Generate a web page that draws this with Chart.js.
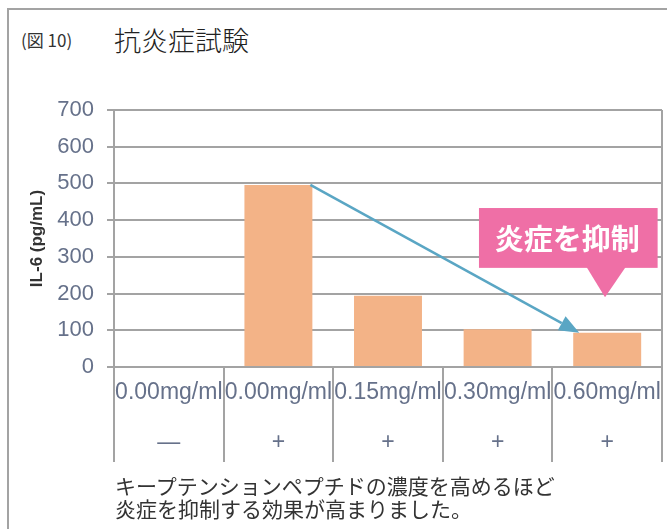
<!DOCTYPE html>
<html lang="ja">
<head>
    <meta charset="UTF-8">
    <title>抗炎症試験</title>
    <style>
        body {
            margin: 0;
            background: #fff;
            font-family: "Noto Sans CJK JP", sans-serif;
            color: #333;
        }
        .wrap {
            position: relative;
            width: 667px;
            height: 529px;
            overflow: hidden;
        }
        .frame {
            position: absolute;
            left: 7px;
            top: 8px;
            width: 680px;
            height: 540px;
            border-left: 2px solid #a3a3a3;
            border-top: 2px solid #a3a3a3;
        }
        #chart {
            position: absolute;
            left: 0;
            top: 0;
        }
        .fig-no {
            position: absolute;
            left: 21px;
            top: 28px;
            font-size: 17px;
            line-height: 24px;
        }
        .title {
            position: absolute;
            left: 114px;
            top: 22px;
            font-size: 27px;
            line-height: 36px;
            font-weight: 300;
            color: #222;
        }
        .caption {
            position: absolute;
            left: 115px;
            top: 474px;
            font-size: 21px;
            line-height: 23px;
            color: #333;
        }
    </style>
</head>
<body>
<div class="wrap">
    <div class="frame"></div>
    <div class="fig-no">(図 10)</div>
    <div class="title">抗炎症試験</div>
    <canvas id="chart" width="667" height="529"></canvas>
    <div class="caption">キープテンションペプチドの濃度を高めるほど<br>炎症を抑制する効果が高まりました。</div>
</div>

<script src="https://cdn.jsdelivr.net/npm/chart.js"></script>
<script>
    // data
    const concentrations = ['0.00mg/ml', '0.00mg/ml', '0.15mg/ml', '0.30mg/ml', '0.60mg/ml'];
    const stimulus = ['—', '+', '+', '+', '+'];
    const il6Values = [0, 496, 194, 103, 93];
    const yTicks = [0, 100, 200, 300, 400, 500, 600, 700];
    const calloutText = '炎症を抑制';

    const gridGray = '#a3a3a3';
    const labelGray = '#66718a';

    // arrow + pink callout drawn on top of the bars
    const annotations = {
        id: 'annotations',
        afterDatasetsDraw(chart) {
            const ctx = chart.ctx;
            const x = chart.scales.x;
            const y = chart.scales.y;
            const area = chart.chartArea;

            // right border of plot
            ctx.save();
            ctx.strokeStyle = gridGray;
            ctx.lineWidth = 2;
            ctx.beginPath();
            ctx.moveTo(area.right, area.top);
            ctx.lineTo(area.right, area.bottom);
            ctx.stroke();

            // arrow from top-right of bar 1 to top-left of bar 4
            const bars = chart.getDatasetMeta(0).data;
            const b1 = bars[1], b4 = bars[4];
            const x1 = b1.x + b1.width / 2 - 2, y1 = b1.y;
            const x2 = b4.x - b4.width / 2 + 6, y2 = b4.y;
            const ang = Math.atan2(y2 - y1, x2 - x1);
            const headLen = 20, headW = 8;
            const bx = x2 - headLen * Math.cos(ang), by = y2 - headLen * Math.sin(ang);
            ctx.strokeStyle = '#5aa6c4';
            ctx.fillStyle = '#5aa6c4';
            ctx.lineWidth = 2.5;
            ctx.beginPath();
            ctx.moveTo(x1, y1);
            ctx.lineTo(bx, by);
            ctx.stroke();
            ctx.beginPath();
            ctx.moveTo(x2, y2);
            ctx.lineTo(bx + headW * Math.sin(ang), by - headW * Math.cos(ang));
            ctx.lineTo(bx - headW * Math.sin(ang), by + headW * Math.cos(ang));
            ctx.closePath();
            ctx.fill();

            // pink callout box
            const step = x.getPixelForValue(1) - x.getPixelForValue(0);
            const cx = x.getPixelForValue(4);
            const left = cx - 1.17 * step, right = cx + 0.46 * step;
            const top = y.getPixelForValue(433), bottom = y.getPixelForValue(270);
            ctx.fillStyle = '#ef6fa6';
            ctx.fillRect(left, top, right - left, bottom - top);
            ctx.beginPath();
            ctx.moveTo(cx - 0.19 * step, bottom - 1);
            ctx.lineTo(cx + 0.17 * step, bottom - 1);
            ctx.lineTo(cx - 0.02 * step, y.getPixelForValue(190));
            ctx.closePath();
            ctx.fill();
            ctx.fillStyle = '#fff';
            ctx.font = 'bold 29px "Noto Sans CJK JP"';
            ctx.textAlign = 'center';
            ctx.textBaseline = 'middle';
            ctx.fillText(calloutText, (left + right) / 2 - 1, (top + bottom) / 2 + 1);
            ctx.restore();
        }
    };

    new Chart(document.getElementById('chart'), {
        type: 'bar',
        data: {
            labels: concentrations.map((c, i) => [c, stimulus[i]]),
            datasets: [{
                data: il6Values,
                backgroundColor: '#f3b387',
                borderWidth: 0,
                barPercentage: 0.62,
                categoryPercentage: 1
            }]
        },
        options: {
            responsive: false,
            animation: false,
            layout: { padding: { left: 0, top: 110, right: 5, bottom: 67 } },
            plugins: {
                legend: { display: false },
                tooltip: { enabled: false }
            },
            scales: {
                x: {
                    afterFit: s => { s.height = 95; },
                    grid: {
                        offset: true,
                        drawOnChartArea: false,
                        tickLength: 95,
                        color: gridGray,
                        lineWidth: 2
                    },
                    border: { display: true, color: gridGray, width: 2 },
                    ticks: {
                        padding: -94,
                        color: labelGray,
                        maxRotation: 0,
                        autoSkip: false,
                        font: { family: 'Liberation Sans', size: 23, lineHeight: 2.15 }
                    }
                },
                y: {
                    min: 0,
                    max: 700,
                    afterFit: s => { s.width = 114; },
                    afterBuildTicks: s => {
                        // major ticks plus minor marks at every 50
                        const t = [];
                        for (let i = 0; i < yTicks.length; i++) {
                            t.push({ value: yTicks[i] });
                            if (i < yTicks.length - 1) t.push({ value: (yTicks[i] + yTicks[i + 1]) / 2 });
                        }
                        s.ticks = t;
                    },
                    grid: {
                        color: c => yTicks.includes(c.tick.value) ? gridGray : 'rgba(0,0,0,0)',
                        tickColor: gridGray,
                        tickLength: 7,
                        lineWidth: 2
                    },
                    border: { display: true, color: gridGray, width: 2 },
                    ticks: {
                        padding: 13,
                        color: labelGray,
                        font: { family: 'Liberation Sans', size: 22 },
                        callback: v => yTicks.includes(v) ? v : ''
                    },
                    title: {
                        display: true,
                        text: 'IL-6 (pg/mL)',
                        color: '#333',
                        padding: { top: 27, bottom: 0 },
                        font: { family: 'Liberation Sans', size: 17, weight: 'bold' }
                    }
                }
            }
        },
        plugins: [annotations]
    });
</script>
</body>
</html>
